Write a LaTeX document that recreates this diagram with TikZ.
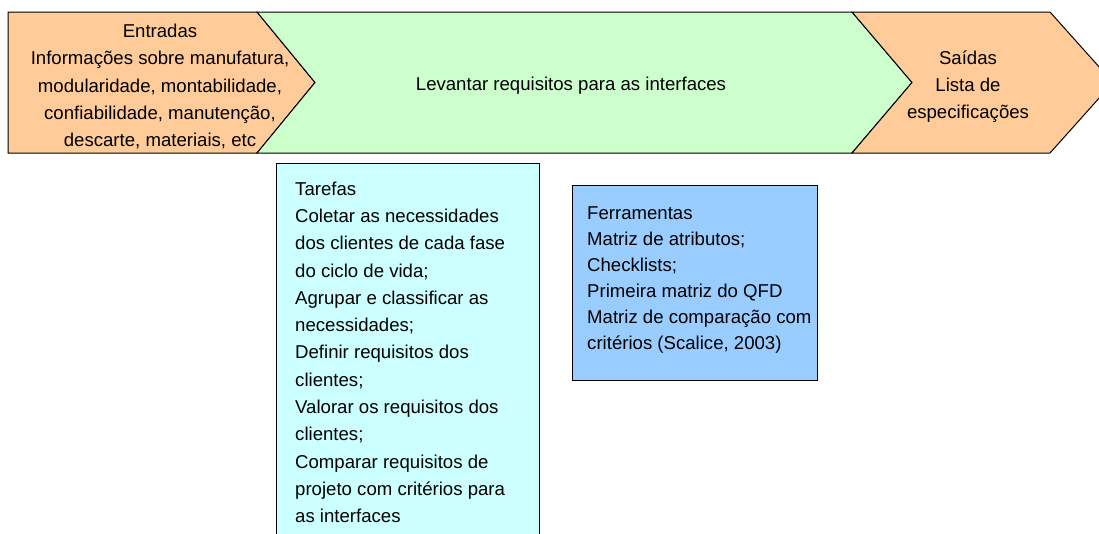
\documentclass[tikz,border=0pt]{standalone}
\usepackage{fontspec}
\setmainfont{Liberation Sans}
\usepackage{tikz}
\usetikzlibrary{positioning, calc}
\definecolor{inoutorange}{HTML}{FFCC99}
\definecolor{stepgreen}{HTML}{CCFFCC}
\definecolor{taskcyan}{HTML}{CCFFFF}
\definecolor{toolblue}{HTML}{99CCFF}

\begin{document}
\begin{tikzpicture}[
  x=1pt, y=-1pt,
  chevron/.style={draw=black, line width=1pt, line join=miter},
  chevtext/.style={align=center, font=\fontsize{18.6}{27.3}\selectfont, inner sep=0pt},
  infobox/.style={draw=black, line width=1pt, anchor=north west, inner sep=0pt},
  boxtext/.style={align=left, anchor=north west, font=\fontsize{18.6}{27.3}\selectfont, inner sep=0pt}
]
  \clip (0,0) rectangle (1099,533);

  % faixa do processo
  \filldraw[chevron, fill=inoutorange] (8,12) -- (257,12) -- (315,82.5) -- (257,153) -- (8,153) -- cycle;
  \filldraw[chevron, fill=stepgreen] (257,12) -- (852,12) -- (912,82.5) -- (852,153) -- (257,153) -- (315,82.5) -- cycle;
  \filldraw[chevron, fill=inoutorange] (852,12) -- (1050,12) -- (1113,82.5) -- (1050,153) -- (852,153) -- (912,82.5) -- cycle;

  \node[chevtext] (entradas) at (160,86.5) {Entradas\\Informações sobre manufatura,\\modularidade, montabilidade,\\confiabilidade, manutenção,\\descarte, materiais, etc};
  \node[chevtext] (levantar) at (571,86) {Levantar requisitos para as interfaces};
  \node[chevtext] (saidas) at (968,86.5) {Saídas\\Lista de\\especificações};

  % tarefas e ferramentas
  \node[infobox, fill=taskcyan, minimum width=263pt, minimum height=385pt] (tarefas) at (276,163) {};
  \node[boxtext] (tarefastxt) at ([xshift=19pt, yshift=-18.5pt]tarefas.north west) {Tarefas\\Coletar as necessidades\\dos clientes de cada fase\\do ciclo de vida;\\Agrupar e classificar as\\necessidades;\\Definir requisitos dos\\clientes;\\Valorar os requisitos dos\\clientes;\\Comparar requisitos de\\projeto com critérios para\\as interfaces};

  \node[infobox, fill=toolblue, minimum width=245pt, minimum height=195pt] (ferramentas) at (572,185) {};
  \node[boxtext, font=\fontsize{18.6}{26}\selectfont] (ferramentastxt) at ([xshift=15pt, yshift=-21.5pt]ferramentas.north west) {Ferramentas\\Matriz de atributos;\\Checklists;\\Primeira matriz do QFD\\Matriz de comparação com\\critérios (Scalice, 2003)};
\end{tikzpicture}
\end{document}
